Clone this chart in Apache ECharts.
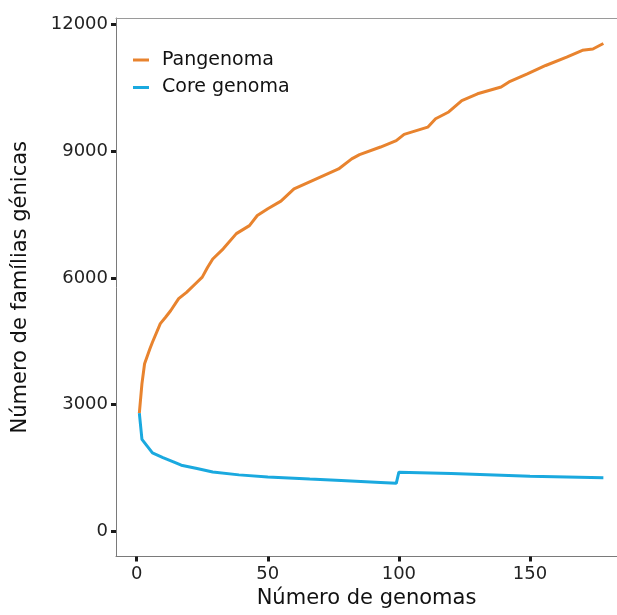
<!DOCTYPE html>
<html>
<head>
<meta charset="utf-8" />
<script src="https://cdn.jsdelivr.net/npm/echarts@6/dist/echarts.min.js"></script>
<style>
  html, body { margin: 0; padding: 0; background: #fff; }
  #chart { width: 617px; height: 615px; }
</style>
</head>
<body>
<div id="chart"></div>
<script>
// Pangenoma (número de genomas -> famílias génicas)
const panX = [1, 2, 3, 5, 6, 9, 11, 13, 16, 19, 23, 25, 27, 29, 33, 38, 43, 46, 50, 55, 60, 70, 77, 82, 85, 93, 99, 102, 111, 114, 119, 124, 130, 139, 142, 149, 156, 164, 170, 174, 178];
const panY = [2800, 3500, 3970, 4320, 4480, 4920, 5070, 5230, 5510, 5660, 5900, 6020, 6250, 6450, 6690, 7050, 7240, 7480, 7640, 7820, 8110, 8390, 8580, 8820, 8920, 9100, 9250, 9400, 9570, 9770, 9930, 10200, 10360, 10520, 10640, 10830, 11030, 11230, 11390, 11420, 11550];
// Core genoma
const coreX = [1, 2, 4, 6, 10, 14, 17, 23, 29, 39, 50, 66, 78, 93, 99, 100, 120, 150, 178];
const coreY = [2800, 2180, 2020, 1860, 1750, 1650, 1570, 1490, 1410, 1340, 1290, 1240, 1205, 1160, 1140, 1405, 1375, 1305, 1270];

const xTicks = [0, 50, 100, 150];
const yTicks = [0, 3000, 6000, 9000, 12000];

const zip = (xs, ys) => xs.map((x, i) => [x, ys[i]]);

const font = "DejaVu Sans";
const axisColor = "#7a7a7a";
const tickStyle = { show: true, length: 5, lineStyle: { color: "#1a1a1a", width: 3 } };
const plain = (v) => String(v);

const chart = echarts.init(document.getElementById("chart"));
chart.setOption({
  animation: false,
  backgroundColor: "#fff",
  textStyle: { fontFamily: font },
  grid: { left: 116, right: 0, top: 18, bottom: 58.5, containLabel: false },
  legend: {
    left: 128,
    top: 45,
    orient: "vertical",
    icon: "rect",
    itemWidth: 16,
    itemHeight: 3,
    itemGap: 7.5,
    textStyle: { fontFamily: font, fontSize: 19, color: "#111", padding: [0, 0, 0, 8], lineHeight: 20 },
    data: ["Pangenoma", "Core genoma"],
  },
  xAxis: [
    {
      type: "value",
      min: -7.9,
      max: 183.2,
      name: "Número de genomas",
      nameLocation: "middle",
      nameGap: 30,
      nameTextStyle: { fontFamily: font, fontSize: 21, color: "#111" },
      splitLine: { show: false },
      axisLine: { show: true, onZero: false, lineStyle: { color: axisColor, width: 1 } },
      axisTick: { ...tickStyle, customValues: xTicks },
      axisLabel: { customValues: xTicks, formatter: plain, margin: 9, fontFamily: font, fontSize: 18, color: "#222" },
    },
    {
      // borda superior do painel
      type: "value",
      position: "top",
      min: -7.9,
      max: 183.2,
      splitLine: { show: false },
      axisLine: { show: true, onZero: false, lineStyle: { color: "#9a9a9a", width: 1 } },
      axisTick: { show: false },
      axisLabel: { show: false },
    },
  ],
  yAxis: {
    type: "value",
    min: -592,
    max: 12154,
    name: "Número de famílias génicas",
    nameLocation: "middle",
    nameGap: 85,
    nameTextStyle: { fontFamily: font, fontSize: 21, color: "#111" },
    splitLine: { show: false },
    axisLine: { show: true, onZero: false, lineStyle: { color: axisColor, width: 1 } },
    axisTick: { ...tickStyle, customValues: yTicks },
    axisLabel: { customValues: yTicks, formatter: plain, margin: 8, fontFamily: font, fontSize: 18, color: "#222" },
  },
  series: [
    {
      name: "Pangenoma",
      type: "line",
      showSymbol: false,
      symbol: "none",
      color: "#e8832e",
      lineStyle: { width: 3, color: "#e8832e" },
      data: zip(panX, panY),
    },
    {
      name: "Core genoma",
      type: "line",
      showSymbol: false,
      symbol: "none",
      color: "#1aa9df",
      lineStyle: { width: 3, color: "#1aa9df" },
      data: zip(coreX, coreY),
    },
  ],
});
</script>
</body>
</html>
